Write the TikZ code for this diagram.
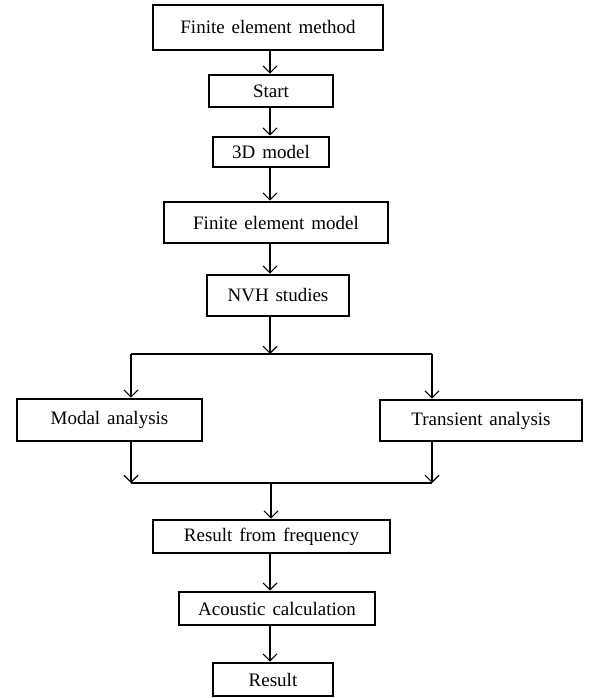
\documentclass[tikz,border=0pt]{standalone}
\usepackage{fontspec}
\setmainfont{Liberation Serif}
\usetikzlibrary{arrows.meta}
\newcommand{\myboxfont}{\fontsize{19}{22}\selectfont\spaceskip=0.36em plus 0.1em minus 0.1em\relax}
\begin{document}
\begin{tikzpicture}[x=1pt,y=-1pt,
  box/.style={draw=black, line width=2.6pt, fill=white, inner sep=0pt,
    font=\myboxfont},
  conn/.style={draw=black, line width=1.1pt},
  arr/.style={conn, -{Straight Barb[length=7pt,width=14pt,line width=1.1pt]}}]
\useasboundingbox (0,0) rectangle (590,698);
\node[box, minimum width=230pt, minimum height=45pt] (fem) at (268,27.5) {Finite element method};
\node[box, minimum width=124pt, minimum height=32pt] (start) at (271,91) {Start};
\node[box, minimum width=116pt, minimum height=30pt] (model3d) at (271,152) {3D model};
\node[box, minimum width=224pt, minimum height=41pt] (femodel) at (276,222.5) {Finite element model};
\node[box, minimum width=142pt, minimum height=41pt] (nvh) at (278,295.5) {NVH studies};
\node[box, minimum width=185pt, minimum height=42pt] (modal) at (109.5,420) {Modal analysis};
\node[box, minimum width=202pt, minimum height=41pt] (trans) at (481,420.5) {Transient analysis};
\node[box, minimum width=237pt, minimum height=33pt] (rff) at (271.5,536.5) {Result from frequency};
\node[box, minimum width=196pt, minimum height=33pt] (acou) at (277,608.5) {Acoustic calculation};
\node[box, minimum width=120pt, minimum height=33pt] (result) at (273,679.5) {Result};
\coordinate (spine) at (270,0);
\coordinate (split) at (270,354);
\coordinate (bl) at (131,354);
\coordinate (br) at (432,354);
\coordinate (ml) at (131,483);
\coordinate (mr) at (432,483);
\coordinate (merge) at (271,483);
\draw[arr] (fem.south -| spine) -- (start.north -| spine);
\draw[arr] (start.south -| spine) -- (model3d.north -| spine);
\draw[arr] (model3d.south -| spine) -- (femodel.north -| spine);
\draw[arr] (femodel.south -| spine) -- (nvh.north -| spine);
\draw[arr] (nvh.south -| spine) -- (split);
\draw[conn] (bl) -- (br);
\draw[arr] (bl) -- (modal.north -| bl);
\draw[arr] (br) -- (trans.north -| br);
\draw[arr] (modal.south -| bl) -- (ml);
\draw[arr] (trans.south -| br) -- (mr);
\draw[conn] (ml) -- (mr);
\draw[arr] (merge) -- (rff.north -| merge);
\draw[arr] (rff.south -| spine) -- (acou.north -| spine);
\draw[arr] (acou.south -| spine) -- (result.north -| spine);
\end{tikzpicture}
\end{document}
